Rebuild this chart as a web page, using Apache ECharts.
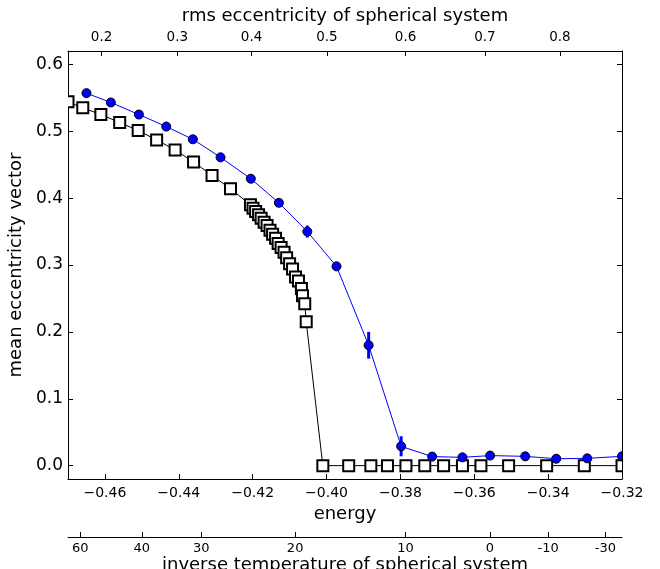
<!DOCTYPE html>
<html>
<head>
<meta charset="utf-8">
<script src="https://cdn.jsdelivr.net/npm/echarts@6/dist/echarts.min.js"></script>
<style>
html,body{margin:0;padding:0;background:#fff;}
#chart{width:660px;height:569px;}
</style>
</head>
<body>
<div id="chart"></div>
<script>
// ---- data ----
const squareEnergy = [-0.4700, -0.4660, -0.4611, -0.4560, -0.4510, -0.4460, -0.4410, -0.4360, -0.4310, -0.4260,
  -0.4206, -0.4199, -0.4192, -0.4184, -0.4177, -0.4169, -0.4161, -0.4153, -0.4146, -0.4138,
  -0.4131, -0.4123, -0.4115, -0.4108, -0.4100, -0.4092, -0.4084, -0.4076, -0.4068, -0.4065,
  -0.4059, -0.4055,
  -0.4010, -0.3940, -0.3880, -0.3835, -0.3785, -0.3734, -0.3683, -0.3632, -0.3582, -0.3507,
  -0.3404, -0.3302, -0.3200];
const squareValue = [0.544, 0.535, 0.525, 0.513, 0.501, 0.487, 0.472, 0.454, 0.434, 0.414,
  0.390, 0.385, 0.380, 0.375, 0.370, 0.364, 0.359, 0.352, 0.346, 0.340,
  0.332, 0.326, 0.319, 0.311, 0.302, 0.294, 0.282, 0.276, 0.265, 0.254,
  0.242, 0.215,
  0, 0, 0, 0, 0, 0, 0, 0, 0, 0,
  0, 0, 0];

const circleEnergy = [-0.4650, -0.4584, -0.4508, -0.4434, -0.4362, -0.4287, -0.4205, -0.4129, -0.4052, -0.3973,
  -0.3886, -0.3798, -0.3714, -0.3632, -0.3557, -0.3462, -0.3378, -0.3294, -0.3200];
const circleValue = [0.557, 0.543, 0.525, 0.507, 0.488, 0.461, 0.429, 0.393, 0.350, 0.298,
  0.180, 0.0289, 0.0135, 0.0124, 0.0150, 0.0139, 0.0103, 0.0109, 0.0139];
const circleError = [0.002, 0.002, 0.002, 0.002, 0.002, 0.002, 0.003, 0.004, 0.009, 0.006,
  0.020, 0.015, 0.002, 0.002, 0.005, 0.003, 0.002, 0.002, 0.002];

const energyTicks = [-0.46, -0.44, -0.42, -0.40, -0.38, -0.36, -0.34, -0.32];
const valueTicks = [0, 0.1, 0.2, 0.3, 0.4, 0.5, 0.6];
const rmsTickPos = [-0.4609, -0.4404, -0.4203, -0.3999, -0.3786, -0.3571, -0.3368];
const rmsTickLabels = ['0.2', '0.3', '0.4', '0.5', '0.6', '0.7', '0.8'];
const invTempTickPos = [-0.4667, -0.4500, -0.4339, -0.4085, -0.3786, -0.3558, -0.3400, -0.3245];
const invTempTickLabels = ['60', '40', '30', '20', '10', '0', '-10', '-30'];

// ---- chart ----
const FONT = 'DejaVu Sans';
const squares = squareEnergy.map((e, i) => [e, squareValue[i]]);
const circles = circleEnergy.map((e, i) => [e, circleValue[i], circleError[i]]);

function lookup(pos, labels) {
  return function (v) {
    let best = -1, bd = 1e9;
    pos.forEach((p, i) => { const d = Math.abs(p - v); if (d < bd) { bd = d; best = i; } });
    return bd < 1e-6 ? labels[best] : '';
  };
}

const axisLineStyle = { color: '#000', width: 1 };
const chart = echarts.init(document.getElementById('chart'), null, { renderer: 'canvas' });

chart.setOption({
  animation: false,
  backgroundColor: '#fff',
  grid: [
    { left: 68, top: 51, width: 554, height: 428, containLabel: false, outerBoundsMode: 'none' },
    { left: 68, top: 536, width: 554, height: 1, containLabel: false, outerBoundsMode: 'none' }
  ],
  xAxis: [
    {
      gridIndex: 0, type: 'value', position: 'bottom', min: -0.47, max: -0.32,
      axisLine: { show: true, onZero: false, lineStyle: axisLineStyle },
      axisTick: { show: true, inside: true, length: 5, customValues: energyTicks, lineStyle: { color: '#000' } },
      axisLabel: {
        show: true, customValues: energyTicks, color: '#000', fontSize: 14, fontFamily: FONT, margin: 7,
        formatter: v => v.toFixed(2).replace('-', '\u2212')
      },
      splitLine: { show: false },
      name: 'energy', nameLocation: 'middle', nameGap: 13,
      nameTextStyle: { color: '#000', fontSize: 18, fontFamily: FONT }
    },
    {
      gridIndex: 0, type: 'value', position: 'top', min: -0.47, max: -0.32,
      axisLine: { show: true, onZero: false, lineStyle: axisLineStyle },
      axisTick: { show: true, inside: true, length: 5, customValues: rmsTickPos, lineStyle: { color: '#000' } },
      axisLabel: {
        show: true, customValues: rmsTickPos, color: '#000', fontSize: 13.5, fontFamily: FONT, margin: 7,
        formatter: lookup(rmsTickPos, rmsTickLabels)
      },
      splitLine: { show: false },
      name: 'rms eccentricity of spherical system', nameLocation: 'middle', nameGap: 23,
      nameTextStyle: { color: '#000', fontSize: 18, fontFamily: FONT }
    },
    {
      gridIndex: 1, type: 'value', position: 'bottom', min: -0.47, max: -0.32,
      axisLine: { show: true, onZero: false, lineStyle: axisLineStyle },
      axisTick: { show: true, inside: true, length: 5, customValues: invTempTickPos, lineStyle: { color: '#000' } },
      axisLabel: {
        show: true, customValues: invTempTickPos, color: '#000', fontSize: 13, fontFamily: FONT, margin: 5,
        formatter: lookup(invTempTickPos, invTempTickLabels)
      },
      splitLine: { show: false },
      name: 'inverse temperature of spherical system', nameLocation: 'middle', nameGap: 16,
      nameTextStyle: { color: '#000', fontSize: 18, fontFamily: FONT }
    }
  ],
  yAxis: [
    {
      gridIndex: 0, type: 'value', position: 'left', min: -0.02, max: 0.62,
      axisLine: { show: true, onZero: false, lineStyle: axisLineStyle },
      axisTick: { show: true, inside: true, length: 5, customValues: valueTicks, lineStyle: { color: '#000' } },
      axisLabel: {
        show: true, customValues: valueTicks, color: '#000', fontSize: 17, fontFamily: FONT, margin: 5,
        formatter: v => v.toFixed(1)
      },
      splitLine: { show: false },
      name: 'mean eccentricity vector', nameLocation: 'middle', nameGap: 39, nameRotate: 90,
      nameTextStyle: { color: '#000', fontSize: 18, fontFamily: FONT }
    },
    {
      gridIndex: 0, type: 'value', position: 'right', min: -0.02, max: 0.62,
      axisLine: { show: true, onZero: false, lineStyle: axisLineStyle },
      axisTick: { show: true, inside: true, length: 5, customValues: valueTicks, lineStyle: { color: '#000' } },
      axisLabel: { show: false },
      splitLine: { show: false }
    },
    { gridIndex: 1, type: 'value', show: false, min: 0, max: 1 }
  ],
  series: [
    {
      type: 'line', xAxisIndex: 0, yAxisIndex: 0, data: squares, symbol: 'none', z: 2,
      lineStyle: { color: '#000', width: 1 }, clip: true
    },
    {
      type: 'custom', xAxisIndex: 0, yAxisIndex: 0, data: squares, z: 3, clip: true,
      encode: { x: 0, y: 1 },
      renderItem: function (params, api) {
        const p = api.coord([api.value(0), api.value(1)]);
        const s = 11;
        return { type: 'rect', shape: { x: p[0] - s / 2, y: p[1] - s / 2, width: s, height: s },
          style: { fill: '#fff', stroke: '#000', lineWidth: 2 } };
      }
    },
    {
      type: 'line', xAxisIndex: 0, yAxisIndex: 0, data: circles.map(c => [c[0], c[1]]), symbol: 'none', z: 4,
      lineStyle: { color: '#0000ff', width: 1 }, clip: true
    },
    {
      type: 'custom', xAxisIndex: 0, yAxisIndex: 0, data: circles, z: 5, clip: true,
      encode: { x: 0, y: 1 },
      renderItem: function (params, api) {
        const x = api.value(0), y = api.value(1), e = api.value(2);
        const lo = api.coord([x, y - e]);
        const hi = api.coord([x, y + e]);
        return { type: 'line', shape: { x1: lo[0], y1: lo[1], x2: hi[0], y2: hi[1] },
          style: { stroke: '#0000ff', lineWidth: 3 } };
      }
    },
    {
      type: 'custom', xAxisIndex: 0, yAxisIndex: 0, data: circles, z: 6, clip: true,
      encode: { x: 0, y: 1 },
      renderItem: function (params, api) {
        const p = api.coord([api.value(0), api.value(1)]);
        return { type: 'circle', shape: { cx: p[0], cy: p[1], r: 4.5 },
          style: { fill: '#0000ff', stroke: '#000', lineWidth: 1 } };
      }
    }
  ]
});
</script>
</body>
</html>
